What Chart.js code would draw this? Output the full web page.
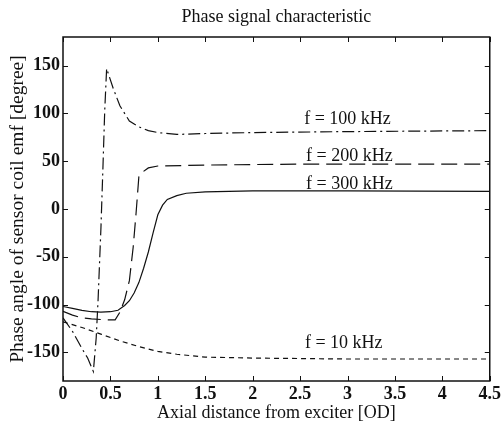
<!DOCTYPE html>
<html>
<head>
<meta charset="utf-8">
<script src="https://cdn.jsdelivr.net/npm/chart.js@4.4.1/dist/chart.umd.min.js"></script>
<style>
  html, body { margin: 0; padding: 0; background: #fff; }
  #wrap { width: 504px; height: 426px; }
</style>
</head>
<body>
<div id="wrap"><canvas id="phaseChart"></canvas></div>
<script>
// tick values
var xTicks = [0, 0.5, 1, 1.5, 2, 2.5, 3, 3.5, 4, 4.5];
var yTicks = [-150, -100, -50, 0, 50, 100, 150];

// f = 10 kHz
var x10 = [0, 0.2, 0.4, 0.6, 0.8, 1.0, 1.2, 1.5, 2.0, 3.0, 4.5];
var y10 = [-118, -124, -131, -138, -144, -149, -152, -155, -156, -157, -157];

// f = 100 kHz
var x100 = [0, 0.1, 0.2, 0.26, 0.32, 0.35, 0.37, 0.40, 0.42, 0.44, 0.46, 0.49, 0.53, 0.6, 0.7, 0.8, 0.9, 1.0, 1.2, 1.5, 2.0, 3.0, 4.5];
var y100 = [-114, -128, -146, -156, -170, -135, -95, -20, 40, 103, 147, 138, 126, 108, 92, 86, 82, 80, 78, 79, 80, 81, 82];

// f = 200 kHz
var x200 = [0, 0.1, 0.2, 0.3, 0.45, 0.55, 0.6, 0.65, 0.7, 0.74, 0.77, 0.8, 0.83, 0.9, 1.0, 1.5, 2.5, 4.5];
var y200 = [-107, -111, -114, -115, -116, -116, -108, -95, -75, -40, -5, 34, 38, 43, 45, 46, 47, 47];

// f = 300 kHz
var x300 = [0, 0.1, 0.2, 0.3, 0.4, 0.5, 0.58, 0.65, 0.7, 0.75, 0.8, 0.85, 0.9, 0.95, 1.0, 1.05, 1.1, 1.2, 1.3, 1.5, 2.0, 3.0, 4.5];
var y300 = [-102, -104, -106, -107.5, -108, -107.5, -106, -101, -96, -88, -77, -62, -45, -25, -6, 4, 10, 14, 16.5, 18, 19, 19, 18.5];

// curve labels: text, x, y (data units)
var labelText = ["f = 100 kHz", "f = 200 kHz", "f = 300 kHz", "f = 10 kHz"];
var labelX = [3.0, 3.02, 3.02, 2.96];
var labelY = [94, 55, 26, -141];

function pts(xs, ys) {
    return xs.map(function(x, i) { return {x: x, y: ys[i]}; });
}

var serif = "'Liberation Serif', 'DejaVu Serif', serif";
var ink = "#111";

var boxPlugin = {
    id: 'matlabBox',
    afterDraw: function(chart) {
        var ctx = chart.ctx;
        var a = chart.chartArea;
        var sx = chart.scales.x, sy = chart.scales.y;
        ctx.save();
        ctx.strokeStyle = ink;
        ctx.lineWidth = 1.5;
        ctx.strokeRect(a.left, a.top, a.right - a.left, a.bottom - a.top);
        ctx.lineWidth = 1;
        var tl = 5;
        xTicks.forEach(function(v) {
            var px = Math.round(sx.getPixelForValue(v)) + 0.5;
            ctx.beginPath();
            ctx.moveTo(px, a.bottom); ctx.lineTo(px, a.bottom - tl);
            ctx.moveTo(px, a.top); ctx.lineTo(px, a.top + tl);
            ctx.stroke();
        });
        yTicks.forEach(function(v) {
            var py = Math.round(sy.getPixelForValue(v)) + 0.5;
            ctx.beginPath();
            ctx.moveTo(a.left, py); ctx.lineTo(a.left + tl, py);
            ctx.moveTo(a.right, py); ctx.lineTo(a.right - tl, py);
            ctx.stroke();
        });
        // title
        ctx.fillStyle = ink;
        ctx.font = "18px " + serif;
        ctx.textAlign = 'center';
        ctx.textBaseline = 'middle';
        ctx.fillText("Phase signal characteristic", (a.left + a.right) / 2, 17);
        // curve labels
        ctx.font = "18px " + serif;
        labelText.forEach(function(t, i) {
            ctx.fillText(t, sx.getPixelForValue(labelX[i]), sy.getPixelForValue(labelY[i]));
        });
        ctx.restore();
    }
};

var ctx = document.getElementById("phaseChart");
var phaseChart = new Chart(ctx, {
    type: 'line',
    data: {
        datasets: [{
            label: "f = 10 kHz",
            data: pts(x10, y10),
            borderColor: ink,
            borderDash: [5, 4]
        }, {
            label: "f = 100 kHz",
            data: pts(x100, y100),
            borderColor: ink,
            borderDash: [12, 4, 2, 4]
        }, {
            label: "f = 200 kHz",
            data: pts(x200, y200),
            borderColor: ink,
            borderDash: [16, 7]
        }, {
            label: "f = 300 kHz",
            data: pts(x300, y300),
            borderColor: ink
        }]
    },
    options: {
        responsive: true,
        maintainAspectRatio: false,
        animation: false,
        layout: { padding: { left: 0, right: 10, top: 37, bottom: 0 } },
        datasets: {
            line: {
                borderWidth: 1.2,
                pointRadius: 0,
                fill: false,
                tension: 0
            }
        },
        plugins: {
            legend: { display: false },
            tooltip: { enabled: false },
            colors: { enabled: false }
        },
        scales: {
            x: {
                type: 'linear',
                min: 0,
                max: 4.5,
                grid: { display: false, drawTicks: false },
                border: { display: false },
                afterBuildTicks: function(scale) {
                    scale.ticks = xTicks.map(function(v) { return {value: v}; });
                },
                afterFit: function(scale) { scale.height = 45; },
                ticks: {
                    padding: 3,
                    color: ink,
                    maxRotation: 0,
                    autoSkip: false,
                    font: { family: serif, size: 18, weight: 'bold' },
                    callback: function(v) { return String(v); }
                },
                title: {
                    display: true,
                    text: "Axial distance from exciter [OD]",
                    color: ink,
                    font: { family: serif, size: 18 },
                    padding: { top: 0, bottom: 2 }
                }
            },
            y: {
                min: -180,
                max: 180,
                grid: { display: false, drawTicks: false },
                border: { display: false },
                afterBuildTicks: function(scale) {
                    scale.ticks = yTicks.map(function(v) { return {value: v}; });
                },
                afterFit: function(scale) { scale.width = 63; },
                ticks: {
                    padding: 3,
                    color: ink,
                    autoSkip: false,
                    font: { family: serif, size: 18, weight: 'bold' },
                    callback: function(v) { return String(v); }
                },
                title: {
                    display: true,
                    text: "Phase angle of sensor coil emf [degree]",
                    color: ink,
                    font: { family: serif, size: 19.5 },
                    padding: { top: 6, bottom: 0 }
                }
            }
        }
    },
    plugins: [boxPlugin]
});
</script>
</body>
</html>
